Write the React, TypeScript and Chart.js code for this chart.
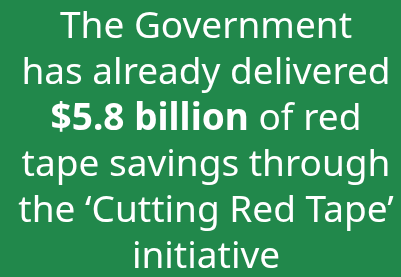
import React, { useEffect, useRef } from "react";
import { Chart, registerables } from "chart.js";

Chart.register(...registerables);

const BG = "#21884b";
const lineSegments: { text: string; bold: boolean }[][] = [
  [{ text: "The Government", bold: false }],
  [{ text: "has already delivered", bold: false }],
  [
    { text: "$5.8 billion", bold: true },
    { text: " of red", bold: false },
  ],
  [{ text: "tape savings through", bold: false }],
  [{ text: "the \u2018Cutting Red Tape\u2019", bold: false }],
  [{ text: "initiative", bold: false }],
];
const categories: string[] = [""];
const values: number[] = [0];

const FONT_SIZE = 37;
const FAMILY = '"Noto Sans", "Open Sans", sans-serif';
const FIRST_BASELINE = 37.5;
const LINE_GAP = 46.1;
const CENTER_X = 206;

export default function App() {
  const ref = useRef<HTMLCanvasElement>(null);
  useEffect(() => {
    document.body.style.margin = "0";
    const textPlugin = {
      id: "textPanel",
      beforeDraw(chart: any) {
        const ctx = chart.ctx;
        ctx.save();
        ctx.fillStyle = BG;
        ctx.fillRect(0, 0, chart.width, chart.height);
        ctx.restore();
      },
      afterDraw(chart: any) {
        const ctx = chart.ctx as CanvasRenderingContext2D;
        ctx.save();
        ctx.fillStyle = "#ffffff";
        ctx.textBaseline = "alphabetic";
        ctx.textAlign = "left";
        lineSegments.forEach((segs, i) => {
          const y = FIRST_BASELINE + i * LINE_GAP;
          const widths = segs.map((s) => {
            ctx.font = `${s.bold ? "bold " : ""}${FONT_SIZE}px ${FAMILY}`;
            return ctx.measureText(s.text).width;
          });
          const total = widths.reduce((a, b) => a + b, 0);
          let x = CENTER_X - total / 2;
          segs.forEach((s, j) => {
            ctx.font = `${s.bold ? "bold " : ""}${FONT_SIZE}px ${FAMILY}`;
            ctx.fillText(s.text, x, y);
            x += widths[j];
          });
        });
        ctx.restore();
      },
    };
    const chart = new Chart(ref.current!, {
      type: "bar",
      data: {
        labels: categories,
        datasets: [{ data: values, backgroundColor: "rgba(0,0,0,0)" }],
      },
      options: {
        animation: false,
        responsive: false,
        maintainAspectRatio: false,
        events: [],
        layout: { padding: 0 },
        plugins: { legend: { display: false }, tooltip: { enabled: false }, title: { display: false } },
        scales: { x: { display: false }, y: { display: false } },
      },
      plugins: [textPlugin],
    });
    return () => chart.destroy();
  }, []);
  return (
    <div style={{ width: 401, height: 277 }}>
      <canvas ref={ref} width={401} height={277} style={{ display: "block" }} />
    </div>
  );
}
